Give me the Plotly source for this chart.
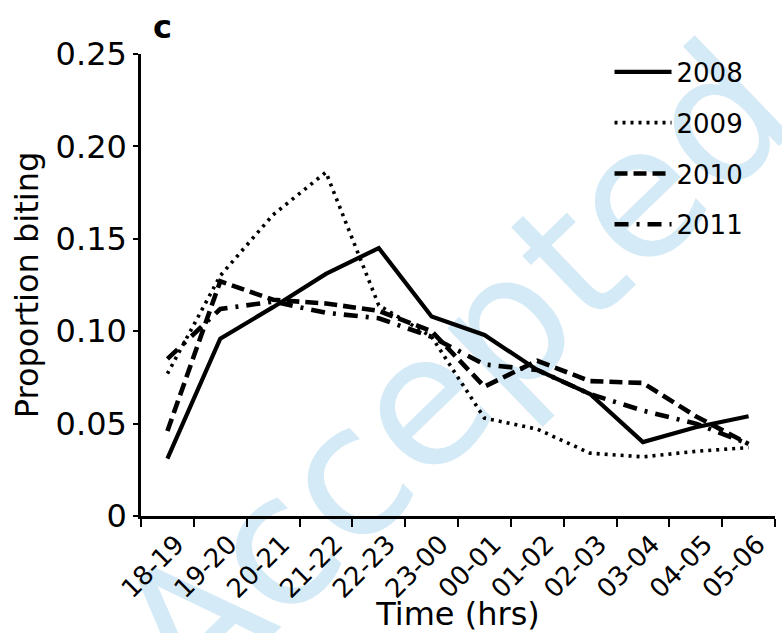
import plotly.graph_objects as go

categories = ['18-19', '19-20', '20-21', '21-22', '22-23', '23-00',
              '00-01', '01-02', '02-03', '03-04', '04-05', '05-06']
y2008 = [0.031, 0.096, 0.113, 0.131, 0.145, 0.108, 0.098, 0.079, 0.066, 0.040, 0.048, 0.054]
y2009 = [0.077, 0.130, 0.163, 0.186, 0.114, 0.097, 0.053, 0.047, 0.034, 0.032, 0.035, 0.037]
y2010 = [0.046, 0.127, 0.117, 0.115, 0.111, 0.100, 0.070, 0.084, 0.073, 0.072, 0.054, 0.039]
y2011 = [0.085, 0.112, 0.116, 0.110, 0.107, 0.097, 0.082, 0.079, 0.066, 0.057, 0.050, 0.039]
series_names = ['2008', '2009', '2010', '2011']
ytick_vals = [0, 0.05, 0.10, 0.15, 0.20, 0.25]
ytick_text = ['0', '0.05', '0.10', '0.15', '0.20', '0.25']

FONT = 'DejaVu Sans'
styles = [
    dict(width=4.2, dash='solid'),
    dict(width=3.6, dash='3px,5px'),
    dict(width=4.6, dash='13px,6px'),
    dict(width=4.6, dash='14px,8px,3px,8px'),
]

fig = go.Figure()
for name, ys, st in zip(series_names, [y2008, y2009, y2010, y2011], styles):
    fig.add_trace(go.Scatter(
        x=categories, y=ys, mode='lines', name=name, legendgroup=name,
        line=dict(color='black', width=st['width'], dash=st['dash']),
    ))

# watermark behind the data
fig.add_shape(
    type='rect', xref='paper', yref='paper', x0=0.4745, x1=0.4845, y0=0.326, y1=0.336,
    line=dict(width=0), fillcolor='rgba(0,0,0,0)', layer='below',
    label=dict(text='Accepted', textangle=-44, textposition='middle center',
               font=dict(family=FONT, size=182, color='#d4eaf6')),
)

fig.add_annotation(
    text='<b>c</b>', xref='paper', yref='paper', x=0.016, y=1.012,
    xanchor='left', yanchor='bottom', showarrow=False,
    font=dict(family=FONT, size=32, color='black'),
)

fig.update_layout(
    width=782, height=633,
    margin=dict(l=141, r=7, t=54, b=117),
    paper_bgcolor='white', plot_bgcolor='rgba(0,0,0,0)',
    font=dict(family=FONT, color='black'),
    showlegend=True,
    legend=dict(
        x=0.739, y=1.012, xanchor='left', yanchor='top',
        bgcolor='rgba(0,0,0,0)', font=dict(family=FONT, size=26),
        itemwidth=57, tracegroupgap=14, traceorder='grouped',
    ),
)
fig.update_xaxes(
    type='category', range=[-0.5, 11.5], showgrid=False, zeroline=False,
    showline=True, linecolor='black', linewidth=2.5,
    ticks='outside', tickson='boundaries', ticklen=8, tickwidth=1.5, tickcolor='black',
    tickangle=-45, tickfont=dict(family=FONT, size=26), ticklabelshift=9,
    title=dict(text='Time (hrs)', font=dict(family=FONT, size=32), standoff=0),
)
fig.update_yaxes(
    range=[0, 0.25], showgrid=False, zeroline=False,
    showline=True, linecolor='black', linewidth=2.5,
    ticks='outside', ticklen=5, tickwidth=2, tickcolor='black',
    tickvals=ytick_vals, ticktext=ytick_text,
    tickfont=dict(family=FONT, size=32),
    title=dict(text='Proportion biting', font=dict(family=FONT, size=32), standoff=8),
)

fig.write_html('out.html')
